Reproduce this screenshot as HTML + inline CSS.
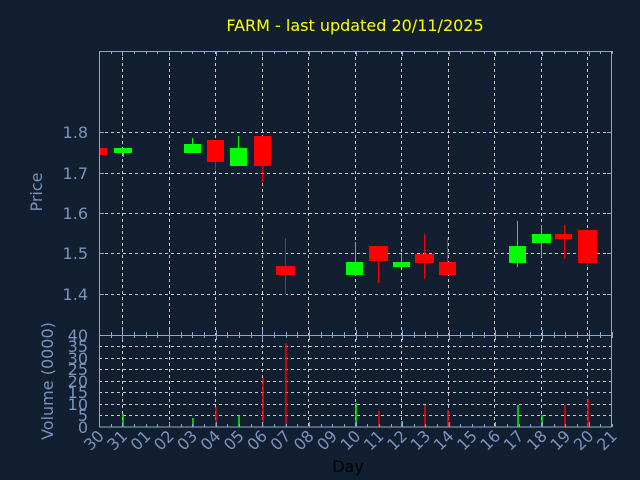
<!DOCTYPE html>
<html><head><style>body{margin:0;background:#111f31;}svg{display:block}</style></head><body>
<svg width="640" height="480" xmlns="http://www.w3.org/2000/svg" font-family="DejaVu Sans, Liberation Sans, sans-serif">
<rect width="640" height="480" fill="#111f31"/>
<text x="355" y="31" fill="#ffff00" font-size="16" text-anchor="middle">FARM - last updated 20/11/2025</text>
<g stroke="#c8c8c8" stroke-dasharray="3,3" stroke-width="1">
<line x1="99" x2="612" y1="132.5" y2="132.5"/><line x1="99" x2="612" y1="173.5" y2="173.5"/><line x1="99" x2="612" y1="213.5" y2="213.5"/><line x1="99" x2="612" y1="253.5" y2="253.5"/><line x1="99" x2="612" y1="294.5" y2="294.5"/>
<line x1="99" x2="612" y1="346.5" y2="346.5"/><line x1="99" x2="612" y1="358.5" y2="358.5"/><line x1="99" x2="612" y1="369.5" y2="369.5"/><line x1="99" x2="612" y1="381.5" y2="381.5"/><line x1="99" x2="612" y1="392.5" y2="392.5"/><line x1="99" x2="612" y1="404.5" y2="404.5"/><line x1="99" x2="612" y1="415.5" y2="415.5"/>
</g>
<g stroke="#c8c8c8" stroke-dasharray="3,3">
<line x1="122.5" x2="122.5" y1="51" y2="427"/><line x1="169.5" x2="169.5" y1="51" y2="427"/><line x1="215.5" x2="215.5" y1="51" y2="427"/><line x1="262.5" x2="262.5" y1="51" y2="427"/><line x1="308.5" x2="308.5" y1="51" y2="427"/><line x1="355.5" x2="355.5" y1="51" y2="427"/><line x1="401.5" x2="401.5" y1="51" y2="427"/><line x1="448.5" x2="448.5" y1="51" y2="427"/><line x1="494.5" x2="494.5" y1="51" y2="427"/><line x1="541.5" x2="541.5" y1="51" y2="427"/><line x1="587.5" x2="587.5" y1="51" y2="427"/>
</g>
<g>
<rect x="99" y="148" width="8" height="7" fill="#ff0000"/>
<line x1="123.5" x2="123.5" y1="150" y2="157" stroke="#00ff00"/><rect x="114" y="148" width="18" height="5" fill="#00ff00"/>
<line x1="192.5" x2="192.5" y1="138" y2="150" stroke="#00ff00"/><rect x="184" y="144" width="17" height="9" fill="#00ff00"/>
<line x1="215.5" x2="215.5" y1="150" y2="170" stroke="#ff0000"/><rect x="207" y="140" width="17" height="22" fill="#ff0000"/>
<line x1="238.5" x2="238.5" y1="136" y2="150" stroke="#00ff00"/><rect x="230" y="148" width="17" height="18" fill="#00ff00"/>
<line x1="262.5" x2="262.5" y1="150" y2="182" stroke="#ff0000"/><rect x="254" y="136" width="17" height="30" fill="#ff0000"/>
<line x1="285.5" x2="285.5" y1="238" y2="295" stroke="#ff0000"/><rect x="276" y="266" width="19" height="9" fill="#ff0000"/>
<line x1="355.5" x2="355.5" y1="242" y2="265" stroke="#00ff00"/><rect x="346" y="262" width="17" height="13" fill="#00ff00"/>
<line x1="378.5" x2="378.5" y1="250" y2="283" stroke="#ff0000"/><rect x="369" y="246" width="19" height="15" fill="#ff0000"/>
<line x1="401.5" x2="401.5" y1="254" y2="265" stroke="#00ff00"/><rect x="393" y="262" width="17" height="5" fill="#00ff00"/>
<line x1="424.5" x2="424.5" y1="234" y2="279" stroke="#ff0000"/><rect x="415" y="254" width="19" height="9" fill="#ff0000"/>
<line x1="447.5" x2="447.5" y1="238" y2="265" stroke="#ff0000"/><rect x="439" y="262" width="17" height="13" fill="#ff0000"/>
<line x1="517.5" x2="517.5" y1="221" y2="267" stroke="#00ff00"/><rect x="509" y="246" width="17" height="17" fill="#00ff00"/>
<line x1="541.5" x2="541.5" y1="225" y2="257" stroke="#00ff00"/><rect x="532" y="234" width="19" height="9" fill="#00ff00"/>
<line x1="564.5" x2="564.5" y1="225" y2="259" stroke="#ff0000"/><rect x="555" y="234" width="17" height="5" fill="#ff0000"/>
<line x1="587.5" x2="587.5" y1="240" y2="267" stroke="#ff0000"/><rect x="578" y="230" width="19" height="33" fill="#ff0000"/>
</g>
<g stroke-width="1.5">
<line x1="123" x2="123" y1="414" y2="427" stroke="#00ff00"/>
<line x1="193" x2="193" y1="418" y2="427" stroke="#00ff00"/>
<line x1="216" x2="216" y1="407" y2="427" stroke="#ff0000"/>
<line x1="239" x2="239" y1="415" y2="427" stroke="#00ff00"/>
<line x1="263" x2="263" y1="378" y2="427" stroke="#ff0000"/>
<line x1="286" x2="286" y1="343" y2="427" stroke="#ff0000"/>
<line x1="356" x2="356" y1="403" y2="427" stroke="#00ff00"/>
<line x1="379" x2="379" y1="411" y2="427" stroke="#ff0000"/>
<line x1="402" x2="402" y1="421" y2="427" stroke="#00ff00"/>
<line x1="425" x2="425" y1="405" y2="427" stroke="#ff0000"/>
<line x1="448" x2="448" y1="410" y2="427" stroke="#ff0000"/>
<line x1="518" x2="518" y1="405" y2="427" stroke="#00ff00"/>
<line x1="542" x2="542" y1="415" y2="427" stroke="#00ff00"/>
<line x1="565" x2="565" y1="405" y2="427" stroke="#ff0000"/>
<line x1="588" x2="588" y1="399" y2="427" stroke="#ff0000"/>
</g>
<g stroke="#8aa8d0" fill="none" stroke-width="1">
<rect x="99.5" y="51.5" width="512" height="375.5"/>
<line x1="99" x2="612" y1="335.5" y2="335.5"/>
</g>
<g stroke="#8aa8d0">
<line x1="99" x2="104" y1="132.5" y2="132.5"/><line x1="99" x2="104" y1="173.5" y2="173.5"/><line x1="99" x2="104" y1="213.5" y2="213.5"/><line x1="99" x2="104" y1="253.5" y2="253.5"/><line x1="99" x2="104" y1="294.5" y2="294.5"/>
<line x1="607" x2="612" y1="132.5" y2="132.5"/><line x1="607" x2="612" y1="173.5" y2="173.5"/><line x1="607" x2="612" y1="213.5" y2="213.5"/><line x1="607" x2="612" y1="253.5" y2="253.5"/><line x1="607" x2="612" y1="294.5" y2="294.5"/>
</g>
<g id="xt" stroke="#8aa8d0"></g>
<g fill="#7894bd" font-size="16" text-anchor="end">
<text x="88" y="138">1.8</text><text x="88" y="179">1.7</text><text x="88" y="219">1.6</text><text x="88" y="259">1.5</text><text x="88" y="300">1.4</text>
<text x="88" y="341">40</text><text x="88" y="352">35</text><text x="88" y="364">30</text><text x="88" y="375">25</text><text x="88" y="387">20</text><text x="88" y="398">15</text><text x="88" y="410">10</text><text x="88" y="421">5</text><text x="88" y="433">0</text>
</g>
<text transform="translate(42,192) rotate(-90)" fill="#7894bd" font-size="16" text-anchor="middle">Price</text>
<text transform="translate(53,381) rotate(-90)" fill="#7894bd" font-size="16" text-anchor="middle">Volume (0000)</text>
<text x="348" y="472" fill="#000" font-size="16" text-anchor="middle">Day</text>
<g id="xl" fill="#7894bd" font-size="16" text-anchor="end"></g>
<script>
var lab=["30","31","01","02","03","04","05","06","07","08","09","10","11","12","13","14","15","16","17","18","19","20","21"];
var ns="http://www.w3.org/2000/svg",xl=document.getElementById("xl"),xt=document.getElementById("xt");
for(var i=0;i<23;i++){var x=99+i*23.32;
var t=document.createElementNS(ns,"text");t.setAttribute("transform","translate("+(x+6)+",437) rotate(-45)");t.textContent=lab[i];xl.appendChild(t);}
for(var j=0;j<=44;j++){var x=Math.round(99+j*11.66)+0.5;var L=(j%4==2)?5:3;
[[51,51+L],[335,335+L],[335-L,335],[427-L,427]].forEach(function(s){var l=document.createElementNS(ns,"line");l.setAttribute("x1",x);l.setAttribute("x2",x);l.setAttribute("y1",s[0]);l.setAttribute("y2",s[1]);xt.appendChild(l);});}
</script>
</svg>
</body></html>
